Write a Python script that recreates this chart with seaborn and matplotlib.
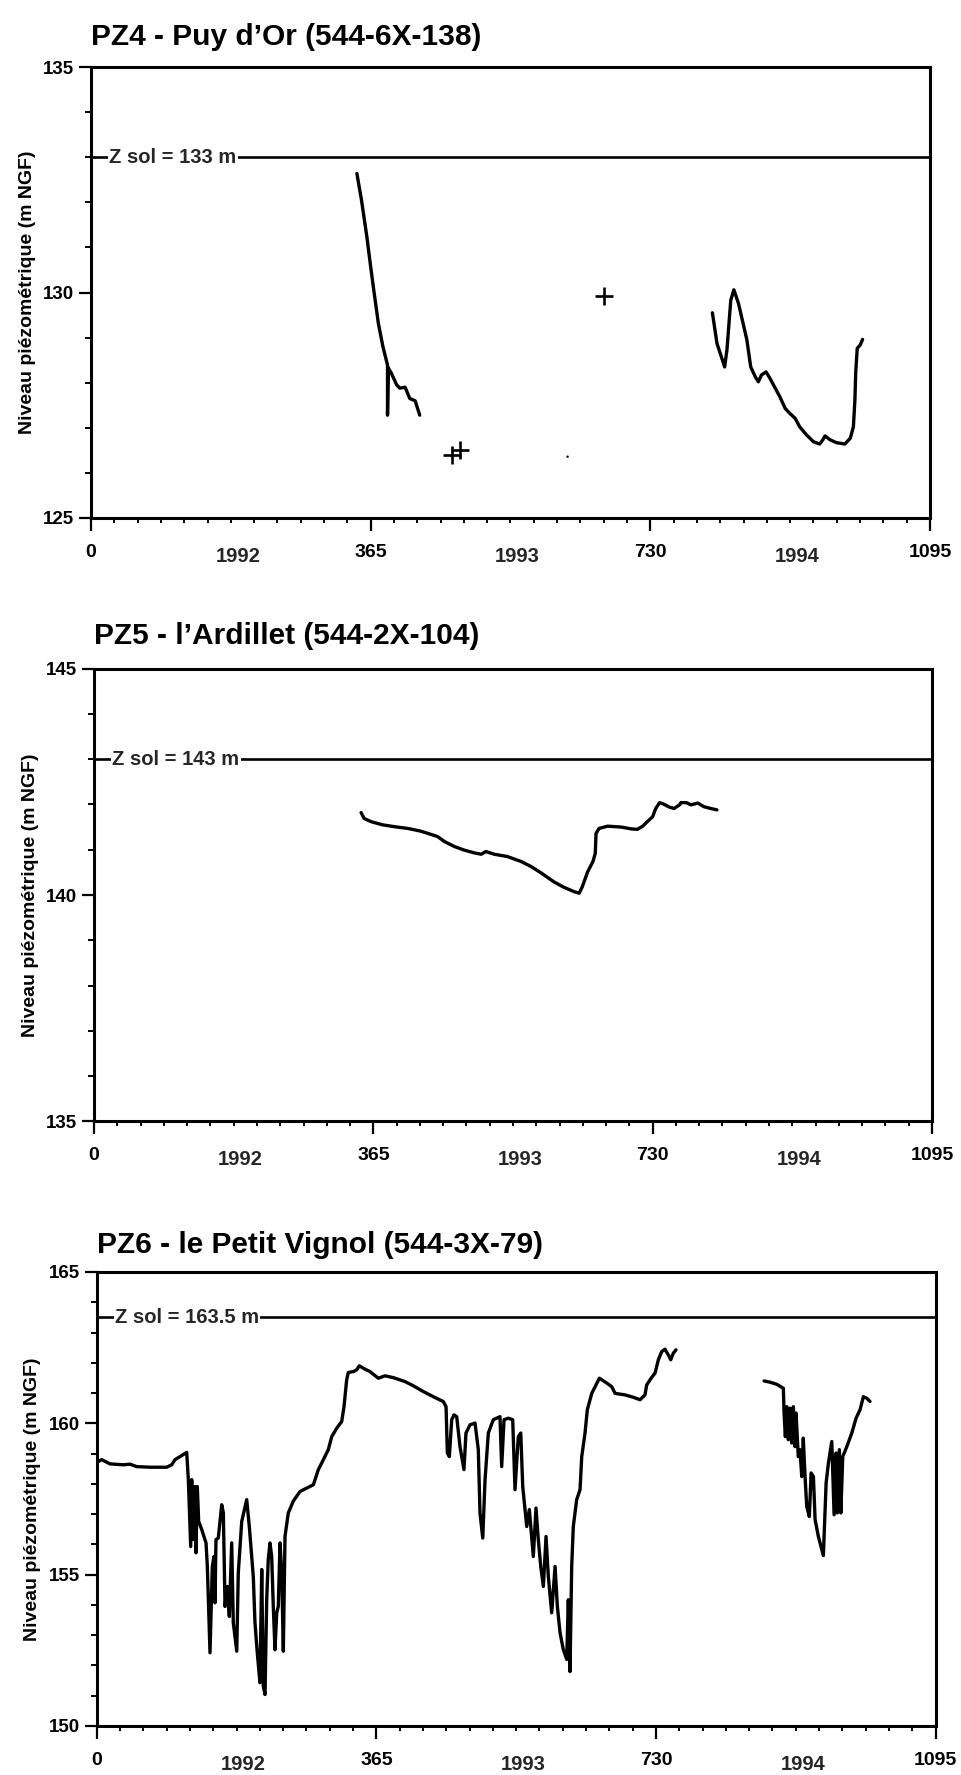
import matplotlib
matplotlib.use("Agg")
import matplotlib.pyplot as plt
from matplotlib.ticker import FixedLocator, MultipleLocator
from matplotlib.transforms import blended_transform_factory
import seaborn as sns

# ---------------------------------------------------------------- data
# day counted from 1 Jan 1992, piezometric level in m NGF

# PZ4 - Puy d'Or
pz4_a_day = [347, 353, 360, 365, 369, 375, 381, 387, 387, 388, 392, 399, 403,
             410, 416, 423, 427, 429]
pz4_a_lvl = [132.64, 132.05, 131.24, 130.57, 130.06, 129.32, 128.80, 128.39,
             127.28, 128.33, 128.21, 127.95, 127.88, 127.90, 127.65, 127.60,
             127.39, 127.28]
pz4_b_day = [811, 817, 822, 827, 830, 833, 835, 839, 845, 851, 856, 861, 867,
             871, 875, 881, 886, 893, 899, 906, 912, 919, 925, 934, 943, 951,
             955, 958, 965, 973, 984, 991, 995, 997, 998, 1000, 1004, 1007]
pz4_b_lvl = [129.55, 128.87, 128.61, 128.35, 128.73, 129.39, 129.83, 130.06,
             129.76, 129.32, 128.95, 128.35, 128.13, 128.02, 128.17, 128.24,
             128.10, 127.88, 127.69, 127.43, 127.32, 127.21, 127.02, 126.84,
             126.69, 126.64, 126.73, 126.82, 126.73, 126.67, 126.64, 126.77,
             127.02, 127.62, 128.21, 128.76, 128.84, 128.96]
pz4_manual_day = [471, 481, 669]
pz4_manual_lvl = [126.40, 126.51, 129.93]
pz4_dot_day = [622]
pz4_dot_lvl = [126.36]

# PZ5 - l'Ardillet
pz5_day = [349, 353, 362, 377, 392, 410, 427, 440, 449, 458, 471, 484, 497,
           506, 512, 523, 540, 558, 571, 584, 601, 614, 628, 634, 638, 645,
           652, 655, 656, 660, 671, 689, 702, 710, 717, 723, 730, 734, 739,
           744, 752, 758, 765, 767, 774, 780, 789, 797, 806, 814]
pz5_lvl = [141.82, 141.69, 141.62, 141.55, 141.51, 141.47, 141.41, 141.34,
           141.29, 141.18, 141.07, 140.99, 140.93, 140.90, 140.96, 140.90,
           140.85, 140.74, 140.63, 140.49, 140.29, 140.17, 140.07, 140.04,
           140.18, 140.51, 140.74, 140.92, 141.36, 141.47, 141.52, 141.50,
           141.46, 141.45, 141.52, 141.62, 141.73, 141.91, 142.04, 142.01,
           141.94, 141.91, 141.99, 142.04, 142.04, 141.99, 142.03, 141.95,
           141.91, 141.88]

# PZ6 - le Petit Vignol
pz6_a_day = [2.1, 6.5, 17.4, 34.7, 43.5, 52.2, 69.6, 91.4, 97.9, 102.2, 108.7,
             117.5, 119.6, 120.9, 122.7, 124.0, 126.1, 128.3, 129.6, 131.3,
             133.1, 137.1, 142.7, 144.4, 147.9, 150.9, 153.1, 154.4, 155.7,
             158.7, 163.2, 165.3, 167.5, 170.5, 173.1, 176.2, 178.3, 182.8,
             184.8, 189.3, 195.8, 199.2, 204.4, 206.6, 209.6, 213.1, 215.4,
             217.5, 219.7, 221.9, 223.9, 226.2, 228.4, 230.5, 232.7, 235.0,
             237.0, 239.3, 241.5, 243.6, 245.8, 250.1, 256.6, 265.4, 274.1,
             282.8, 289.3, 293.7, 302.3, 306.8, 313.3, 319.8, 322.8, 326.3,
             328.4, 335.0, 339.4, 342.8, 348.0, 356.7, 367.6, 376.3, 387.2,
             402.4, 413.3, 426.3, 439.4, 452.4, 456.0, 457.7, 460.3, 463.4,
             466.4, 469.9, 474.2, 479.4, 482.0, 487.3, 493.8, 498.1, 500.3,
             503.9, 506.9, 511.2, 517.7, 526.4, 528.6, 531.7, 537.3, 543.0,
             546.0, 550.3, 553.5, 556.1, 559.1, 561.3, 564.7, 569.9, 573.4,
             576.4, 579.6, 583.0, 586.5, 589.5, 593.9, 598.3, 601.3, 604.8,
             609.1, 613.5, 615.6, 617.8, 620.0, 622.1, 626.5, 630.9, 633.1,
             637.4, 640.4, 646.2, 656.1, 665.8, 672.3, 676.6, 689.6, 700.5,
             709.2, 715.7, 717.9, 724.5, 728.8, 733.1, 737.5, 741.8, 746.1,
             749.3, 752.7, 756.2]
pz6_a_lvl = [158.74, 158.80, 158.66, 158.63, 158.65, 158.57, 158.55, 158.55,
             158.63, 158.80, 158.90, 159.04, 158.14, 157.25, 155.93, 158.14,
             156.16, 157.91, 155.72, 157.91, 156.76, 156.49, 156.05, 155.27,
             152.42, 155.27, 155.60, 154.07, 156.16, 156.21, 157.31, 157.04,
             153.95, 154.61, 153.62, 156.05, 153.41, 152.47, 155.06, 156.76,
             157.48, 156.59, 154.94, 153.41, 152.42, 151.43, 155.17, 151.31,
             151.04, 154.17, 155.50, 156.05, 155.60, 153.95, 152.52, 153.74,
             153.95, 156.05, 155.06, 152.47, 156.27, 157.04, 157.43, 157.75,
             157.86, 157.97, 158.47, 158.69, 159.13, 159.56, 159.84, 160.06,
             160.55, 161.44, 161.68, 161.71, 161.77, 161.90, 161.82, 161.71,
             161.49, 161.57, 161.51, 161.38, 161.24, 161.05, 160.88, 160.72,
             160.55, 159.02, 158.90, 160.12, 160.28, 160.22, 159.23, 158.47,
             159.68, 159.95, 160.01, 159.13, 157.04, 156.21, 158.14, 159.68,
             160.12, 160.22, 158.57, 160.12, 160.17, 160.12, 157.81, 159.56,
             159.68, 157.91, 157.15, 156.59, 157.15, 155.60, 157.20, 156.16,
             155.27, 154.61, 156.26, 154.94, 153.74, 155.27, 153.95, 153.08,
             152.52, 152.20, 154.17, 151.80, 155.27, 156.59, 157.48, 157.81,
             158.90, 159.68, 160.45, 160.99, 161.49, 161.33, 161.21, 160.99,
             160.94, 160.86, 160.78, 160.94, 161.27, 161.52, 161.66, 162.10,
             162.37, 162.45, 162.26, 162.10, 162.32, 162.43]
pz6_b_day = [871.1, 878.9, 887.6, 896.3, 897.2, 898.9, 900.7, 902.8, 905.0,
             907.2, 909.3, 911.5, 912.8, 915.8, 918.0, 920.3, 922.3, 924.6,
             926.8, 930.2, 932.5, 935.5, 937.7, 942.0, 948.5, 952.1, 955.1,
             959.5, 962.5, 965.1, 966.8, 969.4, 971.3, 973.8, 979.1, 985.6,
             991.2, 996.4, 1000.7, 1005.1, 1009.4]
pz6_b_lvl = [161.40, 161.36, 161.29, 161.16, 160.34, 159.56, 160.55, 159.46,
             160.50, 159.35, 160.55, 159.23, 160.34, 158.90, 159.13, 158.24,
             159.51, 158.24, 157.25, 156.92, 158.36, 158.24, 156.82, 156.26,
             155.63, 158.03, 158.69, 159.40, 156.98, 159.02, 157.04, 159.13,
             157.04, 158.90, 159.23, 159.68, 160.17, 160.45, 160.88, 160.83,
             160.72]

# axis annotations
titles = ["PZ4 - Puy d\u2019Or (544-6X-138)",
          "PZ5 - l\u2019Ardillet (544-2X-104)",
          "PZ6 - le Petit Vignol (544-3X-79)"]
ground_levels = [133, 143, 163.5]
ground_labels = ["Z sol = 133 m", "Z sol = 143 m", "Z sol = 163.5 m"]
y_ranges = [(125, 135), (135, 145), (150, 165)]
day_ticks = [0, 365, 730, 1095]
day_labels = ["0", "365", "730", "1095"]
year_labels = ["1992", "1993", "1994"]
ylabel_text = "Niveau pi\u00e9zom\u00e9trique (m NGF)"

# ---------------------------------------------------------------- figure
sns.set_theme(style="ticks")
plt.rcParams["font.family"] = ["Liberation Sans", "DejaVu Sans"]
plt.rcParams["font.weight"] = "bold"

W, H = 962, 1775
fig = plt.figure(figsize=(W / 100, H / 100), dpi=100)
fig.patch.set_facecolor("white")

boxes = [(91, 67, 930, 518), (94, 668.6, 932, 1121.4), (96.7, 1272, 935.6, 1726)]
title_pads = [16, 18, 14]
axes = [fig.add_axes([l / W, 1 - b / H, (r - l) / W, (b - t) / H])
        for (l, t, r, b) in boxes]

LW = 2.4
minor_days = [i * 365 / 12 for i in range(1, 36) if i % 12]
year_mid = [182.5, 547.5, 912.5]


def style_axis(ax, k):
    ymin, ymax = y_ranges[k]
    ax.set_xlim(0, 1095)
    ax.set_ylim(ymin, ymax)
    ax.xaxis.set_major_locator(FixedLocator(day_ticks))
    ax.xaxis.set_minor_locator(FixedLocator(minor_days))
    ax.set_xticklabels(day_labels)
    ax.yaxis.set_major_locator(MultipleLocator(5))
    ax.yaxis.set_minor_locator(MultipleLocator(1))
    ax.tick_params(axis="x", which="major", direction="out", length=9.5,
                   width=1.6, pad=9, labelsize=14, colors="black")
    ax.tick_params(axis="x", which="minor", direction="out", length=3.6,
                   width=1.4, colors="black")
    ax.tick_params(axis="y", which="major", direction="out", length=8.6,
                   width=1.6, pad=3.5, labelsize=13.5, colors="black")
    ax.tick_params(axis="y", which="minor", direction="out", length=4,
                   width=1.4, colors="black")
    for lab in ax.get_xticklabels() + ax.get_yticklabels():
        lab.set_fontweight("bold")
    for sp in ax.spines.values():
        sp.set_visible(True)
        sp.set_linewidth(2.2)
        sp.set_color("black")
    ax.set_xlabel("")
    ax.set_ylabel(ylabel_text, fontsize=14, fontweight="bold", color="black")
    ax.yaxis.set_label_coords(-0.066, 0.5)
    ax.set_title(titles[k], loc="left", fontsize=21.5, fontweight="bold",
                 pad=title_pads[k], color="black")

    # ground level line with its label sitting on it
    ax.axhline(ground_levels[k], color="black", lw=1.9, zorder=1)
    tr = blended_transform_factory(ax.transAxes, ax.transData)
    ax.text(0.022, ground_levels[k], ground_labels[k], transform=tr,
            ha="left", va="center", fontsize=14.5, fontweight="bold",
            bbox=dict(facecolor="white", edgecolor="none", pad=0.8), zorder=2)

    # year names between the day ticks
    for xm, yl in zip(year_mid, year_labels):
        ax.annotate(yl, xy=(xm, 0), xycoords=("data", "axes fraction"),
                    xytext=(5, -27.7), textcoords="offset points",
                    ha="center", va="center", fontsize=14.5,
                    fontweight="bold", annotation_clip=False)


def trace(ax, days, lvl):
    sns.lineplot(x=days, y=lvl, ax=ax, color="black", linewidth=LW,
                 sort=False, estimator=None, legend=False)


ax1, ax2, ax3 = axes

trace(ax1, pz4_a_day, pz4_a_lvl)
trace(ax1, pz4_b_day, pz4_b_lvl)
sns.scatterplot(x=pz4_manual_day, y=pz4_manual_lvl, ax=ax1, marker="+",
                s=160, color="black", linewidth=1.9, legend=False)
sns.scatterplot(x=pz4_dot_day, y=pz4_dot_lvl, ax=ax1, marker="o", s=3,
                color="black", edgecolor="none", legend=False)

trace(ax2, pz5_day, pz5_lvl)

trace(ax3, pz6_a_day, pz6_a_lvl)
trace(ax3, pz6_b_day, pz6_b_lvl)

for k, ax in enumerate(axes):
    style_axis(ax, k)

fig.savefig("out.png", dpi=100, facecolor="white")
